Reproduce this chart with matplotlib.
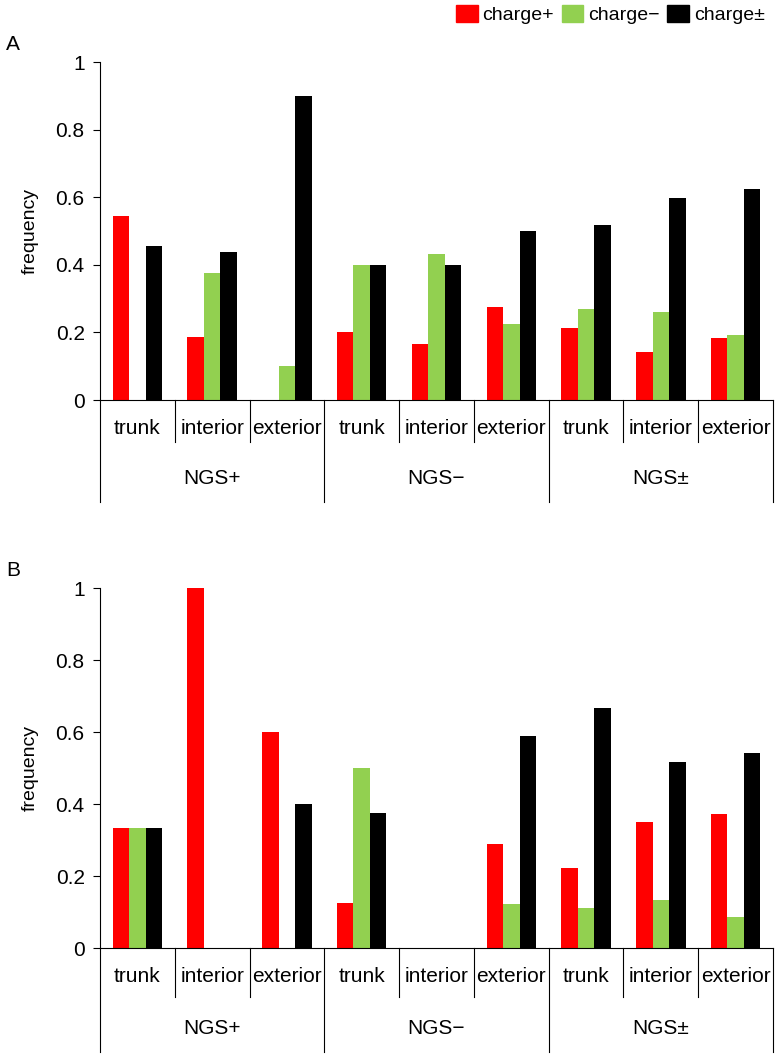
import matplotlib
matplotlib.use('Agg')
import matplotlib.pyplot as plt
import matplotlib.patches as mpatches
import numpy as np

plt.rcParams['font.family'] = ['Liberation Sans', 'DejaVu Sans']

groups = ['NGS+', 'NGS\u2212', 'NGS\u00b1']
subgroups = ['trunk', 'interior', 'exterior']
series_names = ['charge+', 'charge\u2212', 'charge\u00b1']
colors = ['#ff0000', '#92d050', '#000000']

# panel A: frequency per slot (NGS+ trunk/interior/exterior, NGS- ..., NGS± ...)
a_pos = [0.545, 0.1875, 0.0, 0.2, 0.167, 0.275, 0.212, 0.141, 0.183]
a_neg = [0.0, 0.375, 0.1, 0.4, 0.433, 0.224, 0.270, 0.261, 0.191]
a_both = [0.455, 0.4375, 0.9, 0.4, 0.4, 0.5, 0.518, 0.597, 0.624]

# panel B
b_pos = [0.333, 1.0, 0.6, 0.125, 0.0, 0.288, 0.222, 0.35, 0.373]
b_neg = [0.333, 0.0, 0.0, 0.5, 0.0, 0.121, 0.111, 0.134, 0.086]
b_both = [0.333, 0.0, 0.4, 0.375, 0.0, 0.59, 0.667, 0.516, 0.541]

W, H = 779, 1056
fig = plt.figure(figsize=(W / 100, H / 100), dpi=100)


def draw_panel(rect, data, letter, offs):
    # offs: pixel offsets below the zero line (sub label, sub line, group label, group line)
    ax = fig.add_axes(rect)
    h_px = rect[3] * H
    n = len(data[0])
    x = np.arange(n) + 0.5
    bw = 0.22
    for k, vals in enumerate(data):
        ax.bar(x + (k - 1) * bw, vals, width=bw, color=colors[k], linewidth=0)
    ax.set_xlim(0, n)
    ax.set_ylim(0, 1)
    ax.set_yticks([0, 0.2, 0.4, 0.6, 0.8, 1])
    ax.set_yticklabels(['0', '0.2', '0.4', '0.6', '0.8', '1'])
    ax.tick_params(axis='y', direction='out', length=5, width=0.8, labelsize=15, pad=6)
    ax.set_xticks([])
    for s in ['top', 'right']:
        ax.spines[s].set_visible(False)
    ax.spines['left'].set_linewidth(0.8)
    ax.spines['bottom'].set_linewidth(0.8)
    ax.set_ylabel('frequency', fontsize=14, labelpad=12)

    sub_lab, sub_line, grp_lab, grp_line = [-o / h_px for o in offs]
    trans = ax.get_xaxis_transform()
    for i in range(n):
        ax.text(i + 0.5, sub_lab, subgroups[i % 3], transform=trans,
                ha='center', va='center', fontsize=15)
    for i in range(n + 1):
        y_end = grp_line if i % 3 == 0 else sub_line
        ax.plot([i, i], [0, y_end], transform=trans, color='black',
                lw=0.8, clip_on=False)
    for g in range(len(groups)):
        ax.text(g * 3 + 1.5, grp_lab, groups[g], transform=trans,
                ha='center', va='center', fontsize=15)
    fig.text(0.008, rect[1] + rect[3] + 17 / H, letter, fontsize=15,
             ha='left', va='center')
    return ax


draw_panel([100 / W, 1 - 400 / H, 673 / W, 338 / H],
           [a_pos, a_neg, a_both], 'A', [28, 42, 78, 102])
draw_panel([100 / W, 1 - 948 / H, 673 / W, 360 / H],
           [b_pos, b_neg, b_both], 'B', [29, 49, 80, 104])

handles = [mpatches.Patch(color=c, label=l) for c, l in zip(colors, series_names)]
fig.legend(handles=handles, loc='upper right', bbox_to_anchor=(1.004, 1.012), ncol=3,
           frameon=False, fontsize=14, handlelength=1.1, handleheight=1.0,
           handletextpad=0.25, columnspacing=0.4)

fig.savefig('out.png', dpi=100)
plt.close('all')
